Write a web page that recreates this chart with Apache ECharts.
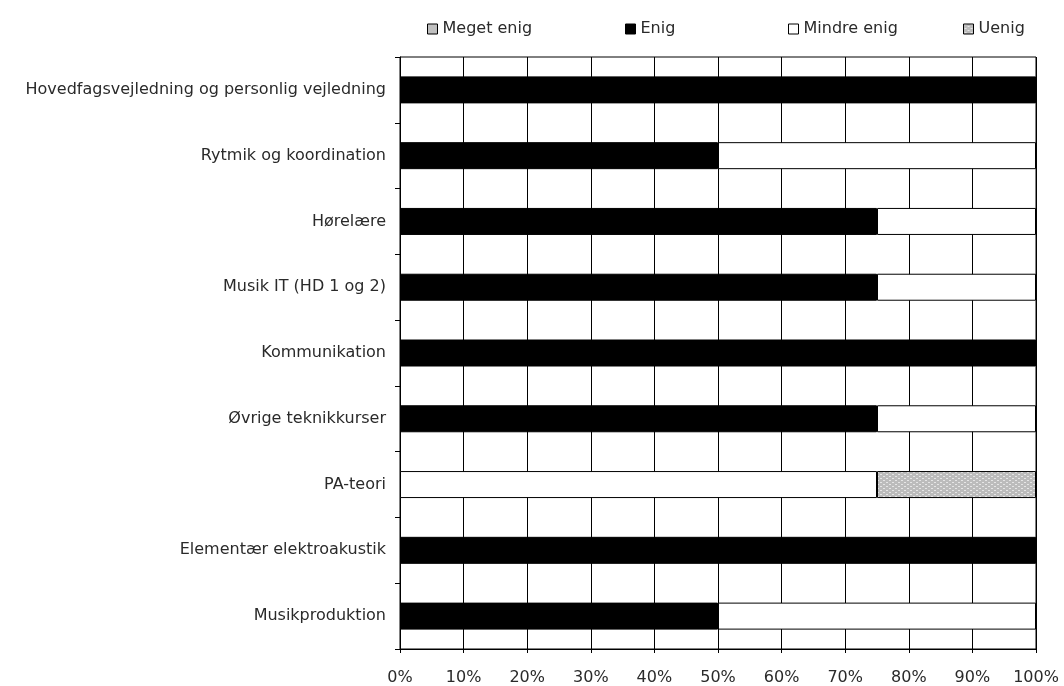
<!DOCTYPE html>
<html><head><meta charset="utf-8">
<script src="https://cdn.jsdelivr.net/npm/echarts@6/dist/echarts.min.js"></script>
<style>html,body{margin:0;padding:0;background:#fff}#c{width:1064px;height:686px}</style>
</head><body><div id="c"></div>
<script>
const categories = ["Hovedfagsvejledning og personlig vejledning","Rytmik og koordination","Hørelære","Musik IT (HD 1 og 2)","Kommunikation","Øvrige teknikkurser","PA-teori","Elementær elektroakustik","Musikproduktion"];
const megetEnig = [0,0,0,0,0,0,0,0,0];
const enig = [100,50,75,75,100,75,0,100,50];
const mindreEnig = [0,50,25,25,0,25,75,0,50];
const uenig = [0,0,0,0,0,0,25,0,0];
const xTicks = ["0%","10%","20%","30%","40%","50%","60%","70%","80%","90%","100%"];

function makePattern(){
  const c = document.createElement('canvas'); c.width=6; c.height=4;
  const g = c.getContext('2d');
  g.fillStyle='#bcbcbc'; g.fillRect(0,0,6,4);
  g.fillStyle='#e6e6e6'; g.fillRect(1,0,2,1); g.fillRect(4,2,2,1);
  return c;
}
const pat = {image: makePattern(), repeat:'repeat'};
const FONT = "'DejaVu Sans'";
const TXT = '#2a2a2a';
const nz = a => a.map(v => v === 0 ? null : v);
const chart = echarts.init(document.getElementById('c'), null, {renderer:'canvas'});
const names = ["Meget enig","Enig","Mindre enig","Uenig"];
const colors = ['#c0c0c0','#000000','#ffffff',pat];
const lefts = [422, 620, 783, 958];
const vals = [megetEnig, enig, mindreEnig, uenig];
chart.setOption({
  animation:false,
  grid:{left:400,right:28,top:57,bottom:37,show:true,borderColor:'#000',borderWidth:1},
  legend: names.map((n,i)=>({data:[n],left:lefts[i],top:16,icon:'rect',itemWidth:10,itemHeight:10,itemGap:6,
    textStyle:{fontFamily:FONT,fontSize:16,color:TXT,padding:[0,0,0,0]},
    itemStyle:{borderColor:'#000',borderWidth:1}})),
  xAxis:{type:'value',min:0,max:100,interval:10,
    axisLine:{show:true,lineStyle:{color:'#000'}},
    axisTick:{show:true,length:4,lineStyle:{color:'#000'}},
    splitLine:{show:true,lineStyle:{color:'#000',width:1}},
    axisLabel:{formatter:v=>xTicks[Math.round(v/10)],margin:21,fontFamily:FONT,fontSize:16,color:TXT}},
  yAxis:{type:'category',data:categories,inverse:true,
    axisLine:{show:true,lineStyle:{color:'#000'}},
    axisTick:{show:true,length:5,lineStyle:{color:'#000'}},
    splitLine:{show:false},
    axisLabel:{margin:14,fontFamily:FONT,fontSize:16,color:TXT}},
  series: names.map((n,i)=>({name:n,type:'bar',stack:'a',data:nz(vals[i]),barWidth:27,
    itemStyle:{color:colors[i],borderColor:'#000',borderWidth:1}}))
});
</script></body></html>
